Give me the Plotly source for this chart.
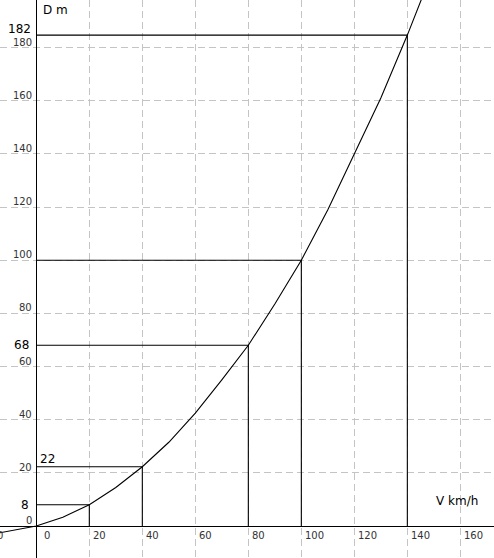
import plotly.graph_objects as go

# Curve: stopping distance D (m) vs speed V (km/h)
speed_v = [-14, -10, 0, 10, 20, 30, 40, 50, 60, 70, 80, 90, 100, 110, 120, 130, 140, 150]
dist_d = [-2.6, -1.8, 0, 3.3, 8, 14.5, 22.3, 31.5, 42.5, 55, 68, 83.5, 100, 119, 140, 161, 184.7, 210]

# Marked points with guide lines
mark_v = [20, 40, 80, 100, 140]
mark_d = [8, 22.3, 68, 100, 184.7]

# Extra value labels on the D axis
val_labels = ["8", "22", "68", "182"]
val_label_d = [8, 22.3, 68, 184.7]

x_ticks = [-20, 0, 20, 40, 60, 80, 100, 120, 140, 160]
y_ticks = [0, 20, 40, 60, 80, 100, 120, 140, 160, 180]

X0, X1 = -13.7, 172.7
Y0, Y1 = -12.04, 197.9
W, H = 494, 558

fig = go.Figure()

fig.add_trace(go.Scatter(x=speed_v, y=dist_d, mode="lines",
                         line=dict(color="black", width=1.1), hoverinfo="skip"))

for v, d in zip(mark_v, mark_d):
    fig.add_trace(go.Scatter(x=[0, v, v], y=[d, d, 0], mode="lines",
                             line=dict(color="black", width=1.1), hoverinfo="skip"))

ann = []
tick_font = dict(family="DejaVu Sans", size=10, color="#333333")
for t in y_ticks:
    ann.append(dict(x=-1.4, y=t, xref="x", yref="y", text=str(t), showarrow=False,
                    xanchor="right", yanchor="bottom", font=tick_font, borderpad=0, yshift=-1))
for t in x_ticks:
    off = 2.4 if t == 0 else 0.9
    ann.append(dict(x=(t + off - X0) / (X1 - X0), y=0, xref="paper", yref="y", text=str(t),
                    showarrow=False, xanchor="left", yanchor="top", font=tick_font,
                    borderpad=0, yshift=-3))

lab_font = dict(family="DejaVu Sans", size=12, color="black")
for txt, d in zip(val_labels, val_label_d):
    if txt == "22":
        ann.append(dict(x=1.2, y=d, xref="x", yref="y", text=txt, showarrow=False,
                        xanchor="left", yanchor="bottom", font=lab_font, borderpad=0, yshift=0))
    elif txt == "182":
        ann.append(dict(x=-1.5, y=d, xref="x", yref="y", text=txt, showarrow=False,
                        xanchor="right", yanchor="bottom", font=lab_font, borderpad=0, yshift=-2))
    else:
        ann.append(dict(x=-2.2, y=d, xref="x", yref="y", text=txt, showarrow=False,
                        xanchor="right", yanchor="middle", font=lab_font, borderpad=0))

ann.append(dict(x=2.3, y=Y1, xref="x", yref="y", text="D m", showarrow=False,
                xanchor="left", yanchor="top", font=lab_font, borderpad=0, yshift=-2))
ann.append(dict(x=150.5, y=6.4, xref="x", yref="y", text="V km/h", showarrow=False,
                xanchor="left", yanchor="bottom", font=lab_font, borderpad=0))

axis_common = dict(showgrid=True, gridcolor="#c4c4c4", griddash="7px,4px", gridwidth=1,
                   tick0=0, dtick=20, showticklabels=False, ticks="",
                   zeroline=True, zerolinecolor="black", zerolinewidth=1.1,
                   showline=False, fixedrange=True)

fig.update_layout(
    width=W, height=H, autosize=False,
    margin=dict(l=0, r=0, t=0, b=0),
    paper_bgcolor="white", plot_bgcolor="white",
    showlegend=False,
    xaxis=dict(range=[X0, X1], **axis_common),
    yaxis=dict(range=[Y0, Y1], **axis_common),
    annotations=ann,
)

fig.write_html("out.html", config={"displayModeBar": False},
               post_script="document.body.style.margin='0';document.body.style.overflow='hidden';")
